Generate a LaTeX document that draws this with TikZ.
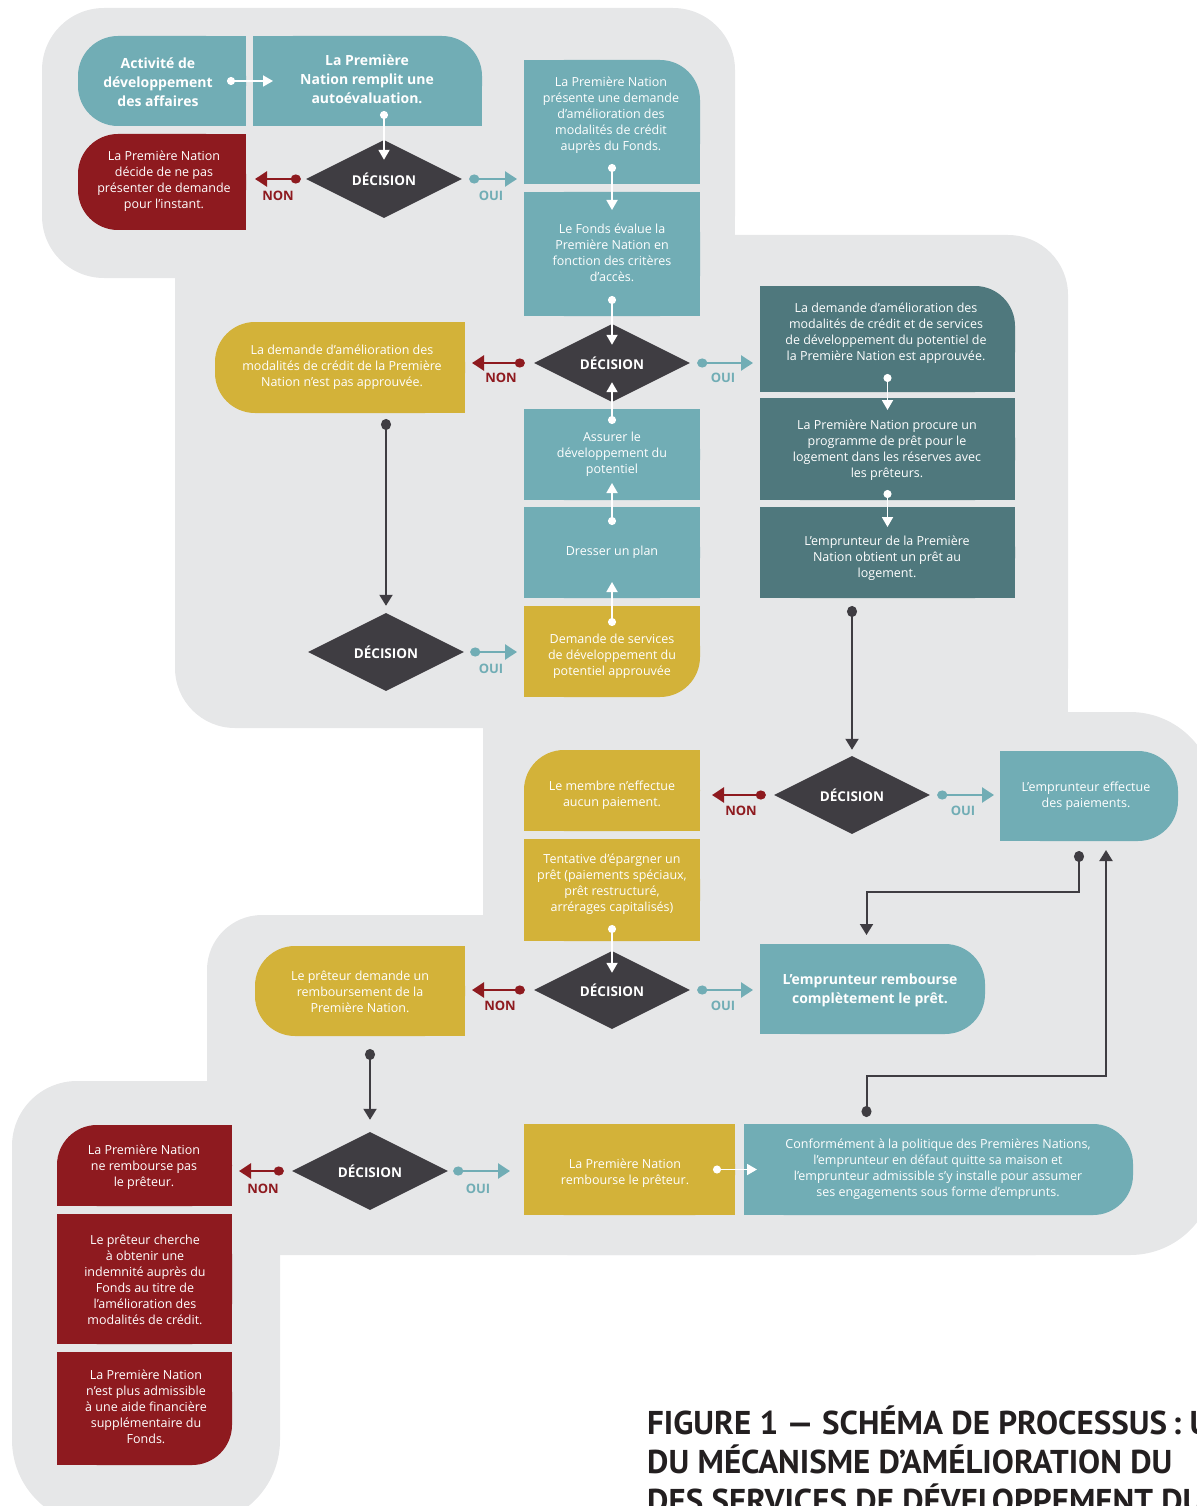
\documentclass[tikz,border=0pt]{standalone}
\usepackage{fontspec}
\setmainfont{Open Sans}
\newfontfamily\titlefont{PT Sans}
\usetikzlibrary{arrows.meta,shapes.geometric,calc}
\definecolor{bggray}{HTML}{E6E7E8}
\definecolor{teal}{HTML}{71ADB5}
\definecolor{dteal}{HTML}{4F787D}
\definecolor{gold}{HTML}{D3B239}
\definecolor{dred}{HTML}{8E1A1F}
\definecolor{decdark}{HTML}{3F3D42}
\definecolor{titlecol}{HTML}{231F20}
\newcommand\mkbox[7]{%
  \node[minimum width=#4pt,minimum height=#5pt,inner sep=0pt,outer sep=0pt] (#1) at (#2,#3) {};
  \fill[#6,rounded corners=40pt] (#1.south west) rectangle (#1.north east);
  \foreach \cc in {#7}{\fill[#6] (#1.\cc) rectangle (#1.center);}
}
\tikzset{
  tx/.style={text=white, align=center, font=\fontsize{12.5}{16}\selectfont, inner sep=0pt},
  txb/.style={text=white, align=center, font=\fontsize{14}{19}\selectfont\bfseries, inner sep=0pt},
  dec/.style={diamond, fill=decdark, minimum width=156pt, minimum height=78pt, inner sep=0pt, aspect=2, text=white, font=\fontsize{13.5}{16}\selectfont\bfseries},
  wline/.style={white, line width=1.8pt, {Circle[length=8pt,width=8pt]}-{Triangle[length=10pt,width=11pt]}},
  nline/.style={dred, line width=2.6pt, {Circle[length=10pt,width=9pt]}-{Triangle[length=12pt,width=15pt]}},
  oline/.style={teal, line width=2.6pt, {Circle[length=10pt,width=9pt]}-{Triangle[length=12pt,width=15pt]}},
  dline/.style={decdark, line width=2pt, {Circle[length=11pt,width=10pt]}-{Triangle[length=11pt,width=13pt]}},
  nlbl/.style={text=dred, font=\fontsize{13}{16}\selectfont\bfseries, inner sep=0pt},
  olbl/.style={text=teal, font=\fontsize{13}{16}\selectfont\bfseries, inner sep=0pt},
  ttl/.style={anchor=base west, text=titlecol, inner sep=0pt, font=\titlefont\fontsize{33}{39}\selectfont\bfseries}
}
\begin{document}
\begin{tikzpicture}[x=1pt,y=-1pt]
\useasboundingbox (0,0) rectangle (1196,1506);
% gray background
\fill[bggray, rounded corners=62pt] (42,8) rectangle (735,278);
\fill[bggray] (650,150) rectangle (735,278);
\fill[bggray, rounded corners=60pt] (175,235) rectangle (1068,728);
\fill[bggray] (175,235) rectangle (260,320);
\fill[bggray] (1000,650) rectangle (1068,728);
\fill[bggray, rounded corners=85pt] (483,712) rectangle (1215,1255);
\fill[bggray] (483,700) rectangle (600,800);
\fill[bggray, rounded corners=55pt] (207,915) rectangle (1000,1200);
\fill[bggray, rounded corners=65pt] (12,1081) rectangle (1100,1255);
\fill[bggray, rounded corners=85pt] (12,1081) rectangle (280,1525);
% boxes
\mkbox{A}{162}{81}{168}{90}{teal}{north east,south east}
\mkbox{B}{367.5}{81}{229}{90}{teal}{north west,south west,south east}
\mkbox{C}{162}{182}{168}{96}{dred}{north east,south east}
\mkbox{E}{612}{122}{176}{124}{teal}{north west,south west,south east}
\mkbox{F}{612}{254}{176}{124}{teal}{north west,north east,south west,south east}
\mkbox{G}{340}{367.5}{250}{91}{gold}{north east,south east}
\mkbox{H}{887.5}{339}{255}{106}{dteal}{north west,south west,south east}
\mkbox{I}{887.5}{449}{255}{102}{dteal}{north west,north east,south west,south east}
\mkbox{J}{887.5}{552.5}{255}{91}{dteal}{north west,north east,south west,south east}
\mkbox{K}{612}{454.5}{176}{91}{teal}{north west,north east,south west,south east}
\mkbox{L}{612}{552.5}{176}{91}{teal}{north west,north east,south west,south east}
\mkbox{M}{612}{651.5}{176}{91}{gold}{north west,north east,south west}
\mkbox{N}{612}{790.5}{176}{81}{gold}{north east,south west,south east}
\mkbox{O}{612}{890}{176}{102}{gold}{north west,north east,south west,south east}
\mkbox{P}{1089}{796}{178}{90}{teal}{north west,south west}
\mkbox{Q}{360}{991}{210}{90}{gold}{north east,south east}
\mkbox{R}{872.5}{989}{225}{90}{teal}{north west,south west}
\mkbox{S}{144.5}{1165.5}{175}{81}{dred}{north east,south west,south east}
\mkbox{T}{144.5}{1279}{175}{130}{dred}{north west,north east,south west,south east}
\mkbox{U}{144.5}{1408.5}{175}{113}{dred}{north west,north east,south west}
\mkbox{V}{629.5}{1169.5}{211}{91}{gold}{north west,north east,south west,south east}
\mkbox{W}{938.5}{1169.5}{389}{91}{teal}{north west,south west}
% diamonds
\node[dec] (D1) at (384,179) {DÉCISION};
\node[dec] (D2) at (612,363) {DÉCISION};
\node[dec] (D3) at (386,652) {DÉCISION};
\node[dec] (D4) at (852,795) {DÉCISION};
\node[dec] (D5) at (612,990) {DÉCISION};
\node[dec] (D6) at (370,1171) {DÉCISION};
% texts
\node[txb] (At) at (158,82) {Activité de\\développement\\des affaires};
\node[txb] (Bt) at (367,79) {La Première\\Nation remplit une\\autoévaluation.};
\node[tx] (Ct) at (164,181) {La Première Nation\\décide de ne pas\\présenter de demande\\pour l’instant.};
\node[tx] (Et) at (611,115) {La Première Nation\\présente une demande\\d’amélioration des\\modalités de crédit\\auprès du Fonds.};
\node[tx] (Ft) at (612,253) {Le Fonds évalue la\\Première Nation en\\fonction des critères\\d’accès.};
\node[tx] (Gt) at (342,367) {La demande d’amélioration des\\modalités de crédit de la Première\\Nation n’est pas approuvée.};
\node[tx] (Ht) at (886,333) {La demande d’amélioration des\\modalités de crédit et de services\\de développement du potentiel de\\la Première Nation est approuvée.};
\node[tx] (It) at (887,450) {La Première Nation procure un\\programme de prêt pour le\\logement dans les réserves avec\\les prêteurs.};
\node[tx] (Jt) at (887,558) {L’emprunteur de la Première\\Nation obtient un prêt au\\logement.};
\node[tx] (Kt) at (612,454) {Assurer le\\développement du\\potentiel};
\node[tx] (Lt) at (612,552) {Dresser un plan};
\node[tx] (Mt) at (612,656) {Demande de services\\de développement du\\potentiel approuvée};
\node[tx] (Nt) at (612,795) {Le membre n’effectue\\aucun paiement.};
\node[tx] (Ot) at (612,884) {Tentative d’épargner un\\prêt (paiements spéciaux,\\prêt restructuré,\\arrérages capitalisés)};
\node[tx] (Pt) at (1086,796) {L’emprunteur effectue\\des paiements.};
\node[tx] (Qt) at (360,992) {Le prêteur demande un\\remboursement de la\\Première Nation.};
\node[txb] (Rt) at (870,990) {L’emprunteur rembourse\\complètement le prêt.};
\node[tx] (St) at (144,1167) {La Première Nation\\ne rembourse pas\\le prêteur.};
\node[tx] (Tt) at (145,1280) {Le prêteur cherche\\à obtenir une\\indemnité auprès du\\Fonds au titre de\\l’amélioration des\\modalités de crédit.};
\node[tx] (Ut) at (146,1407) {La Première Nation\\n’est plus admissible\\à une aide financière\\supplémentaire du\\Fonds.};
\node[tx] (Vt) at (625,1173) {La Première Nation\\rembourse le prêteur.};
\node[tx] (Wt) at (938,1169) {Conformément à la politique des Premières Nations,\\l’emprunteur en défaut quitte sa maison et\\l’emprunteur admissible s’y installe pour assumer\\ses engagements sous forme d’emprunts.};
% connectors
\draw[wline] ($(A.east)+(-19,0)$) -- ($(B.west)+(20,0)$);
\draw[wline] ($(B.south -| D1.north)+(0,-15)$) -- ($(D1.north)+(0,20)$);
\draw[nline] ($(D1.west)+(-5,0)$) -- ($(D1.west -| C.east)+(9,0)$);
\draw[oline] ($(D1.east)+(7,0)$) -- ($(D1.east -| E.west)+(-7,0)$);
\draw[wline] ($(E.south)+(0,-20)$) -- ($(F.north)+(0,18)$);
\draw[wline] ($(F.south)+(0,-20)$) -- ($(D2.north)+(0,21)$);
\draw[wline] ($(K.north)+(0,15)$) -- ($(D2.south)+(0,-20)$);
\draw[wline] ($(L.north)+(0,18)$) -- ($(K.south)+(0,-17)$);
\draw[wline] ($(M.north)+(0,20)$) -- ($(L.south)+(0,-16)$);
\draw[nline] ($(D2.west)+(-9,0)$) -- ($(D2.west -| G.east)+(7,0)$);
\draw[oline] ($(D2.east)+(7,0)$) -- ($(D2.east -| H.west)+(-7,0)$);
\draw[wline] ($(H.south)+(0,-18)$) -- ($(I.north)+(0,12)$);
\draw[wline] ($(I.south)+(0,-10)$) -- ($(J.north)+(0,20)$);
\draw[dline] ($(G.south -| D3.north)+(0,6)$) -- ($(D3.north)+(0,-7)$);
\draw[oline] ($(D3.east)+(6,0)$) -- ($(D3.east -| M.west)+(-7,0)$);
\draw[dline] ($(J.south -| D4.north)+(0,8)$) -- ($(D4.north)+(0,-6)$);
\draw[nline] ($(D4.west)+(-8,0)$) -- ($(D4.west -| N.east)+(12,0)$);
\draw[oline] ($(D4.east)+(7,0)$) -- ($(D4.east -| P.west)+(-6,0)$);
\draw[dline] ($(P.south)+(-10,10)$) -- ++(0,41) -| ($(R.north)+(-6,-9)$);
\draw[dline] ($(W.north)+(-72,-7)$) -- ++(0,-41) -| ($(P.south)+(17,9)$);
\draw[wline] ($(O.south)+(0,-16)$) -- ($(D5.north)+(0,22)$);
\draw[nline] ($(D5.west)+(-9,0)$) -- ($(D5.west -| Q.east)+(7,0)$);
\draw[oline] ($(D5.east)+(7,0)$) -- ($(D5.east -| R.west)+(-7,0)$);
\draw[dline] ($(Q.south -| D6.north)+(0,13)$) -- ($(D6.north)+(0,-12)$);
\draw[nline] ($(D6.west)+(-8,0)$) -- ($(D6.west -| S.east)+(7,0)$);
\draw[oline] ($(D6.east)+(5,0)$) -- ($(D6.east -| V.west)+(-14,0)$);
\draw[wline] ($(V.east)+(-22,0)$) -- ($(W.west)+(13,0)$);
% labels
\node[nlbl] (n1) at (278,196) {NON};
\node[olbl] (o1) at (491,196) {OUI};
\node[nlbl] (n2) at (501,378) {NON};
\node[olbl] (o2) at (723,378) {OUI};
\node[olbl] (o3) at (491,669) {OUI};
\node[nlbl] (n4) at (741,811) {NON};
\node[olbl] (o4) at (963,811) {OUI};
\node[nlbl] (n5) at (500,1006) {NON};
\node[olbl] (o5) at (723,1006) {OUI};
\node[nlbl] (n6) at (263,1189) {NON};
\node[olbl] (o6) at (478,1189) {OUI};
% title
\node[ttl] (t1) at (647,1434) {FIGURE 1 — SCHÉMA DE PROCESSUS\,: U};
\node[ttl] (t2) at (647,1473) {DU MÉCANISME D’AMÉLIORATION DU};
\node[ttl] (t3) at (647,1512) {DES SERVICES DE DÉVELOPPEMENT DU};
\end{tikzpicture}
\end{document}
